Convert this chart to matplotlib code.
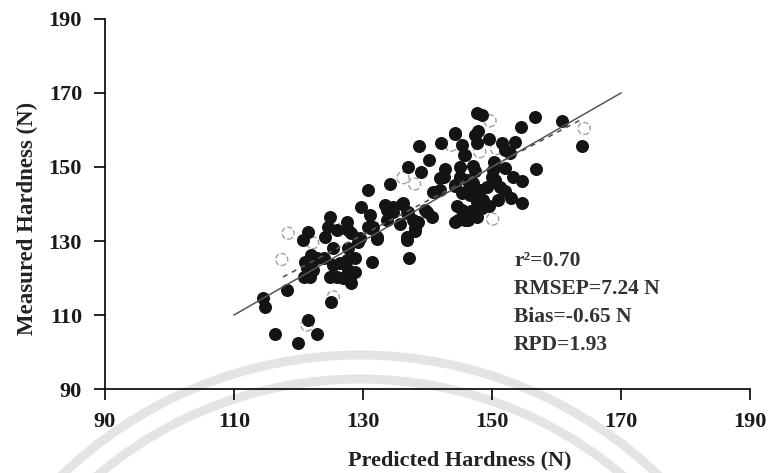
import numpy as np
import matplotlib.pyplot as plt
from matplotlib.patches import Arc

plt.rcParams['font.family'] = ['Liberation Serif', 'DejaVu Serif']
plt.rcParams['font.weight'] = 'bold'

# Calibration set (filled) - predicted vs measured hardness (N)
cal_pred = [147.6, 148.5, 156.6, 160.9, 154.5, 163.9, 147.9, 144.3, 149.6, 153.6, 138.7, 142.1,
            145.3, 147.6, 145.8, 151.6, 152.0, 152.8, 140.3, 145.6, 145.0, 150.3, 150.2, 147.1,
            142.7, 136.9, 139.0, 152.0, 156.8, 134.2, 141.9, 142.5, 145.0, 146.1, 147.1, 148.1,
            149.2, 150.0, 150.5, 151.2, 152.0, 153.2, 154.6, 140.9, 141.9, 144.3, 145.3, 146.6,
            147.6, 148.6, 144.5, 145.3, 148.4, 154.6, 133.4, 134.7, 136.0, 137.0, 139.9, 140.7,
            144.8, 146.3, 147.6, 137.8, 138.1, 136.8, 130.7, 129.7, 131.1, 133.7, 134.7, 136.8,
            124.9, 124.6, 124.1, 121.5, 120.7, 127.5, 127.7, 128.2, 130.8, 131.6, 132.1, 125.9,
            125.3, 127.7, 121.0, 122.0, 121.3, 122.3, 120.8, 121.8, 122.8, 123.9, 125.4, 126.4,
            127.5, 125.9, 126.9, 127.7, 128.0, 122.0, 124.9, 128.2, 118.2, 114.5, 114.8, 125.1,
            121.5, 116.4, 122.8, 119.9, 131.1, 129.5, 129.3, 132.1, 128.8, 128.8, 136.8, 138.1,
            137.2, 131.4, 144.3, 147.4, 146.8, 144.3, 145.8, 139.6, 138.6, 135.7, 133.7, 136.2,
            144.3, 145.8, 147.4, 141.2, 149.5, 151.0, 153.0]
cal_meas = [164.5, 164.0, 163.4, 162.5, 160.9, 155.7, 159.8, 159.1, 157.5, 156.8, 155.7, 156.4,
            156.0, 156.4, 153.2, 156.4, 154.6, 153.9, 152.0, 153.2, 150.1, 151.4, 149.2, 150.3,
            149.4, 150.0, 148.6, 149.7, 149.4, 145.4, 146.9, 147.4, 147.4, 146.5, 145.6, 143.8,
            144.7, 147.4, 146.5, 144.7, 143.4, 147.2, 146.3, 143.3, 143.8, 144.9, 142.9, 142.4,
            140.6, 141.1, 139.5, 138.4, 138.8, 140.2, 139.7, 139.3, 140.0, 137.9, 137.9, 136.6,
            135.7, 135.7, 136.4, 135.7, 133.4, 131.2, 143.8, 139.3, 137.0, 138.5, 137.9, 137.5,
            136.4, 133.9, 131.2, 132.5, 130.3, 135.2, 133.0, 132.1, 133.9, 133.9, 131.2, 133.0,
            128.0, 128.0, 124.4, 124.0, 122.6, 122.2, 120.4, 120.4, 125.3, 125.3, 123.5, 124.0,
            124.9, 120.4, 119.9, 122.2, 119.5, 126.2, 120.4, 118.6, 116.8, 114.5, 112.2, 113.6,
            108.6, 104.9, 104.9, 102.3, 133.4, 130.7, 129.8, 130.5, 125.3, 121.7, 130.3, 132.7,
            125.3, 124.4, 158.8, 158.6, 138.0, 135.2, 135.7, 138.4, 135.2, 134.7, 135.7, 140.2,
            145.1, 143.3, 148.8, 143.3, 139.5, 141.0, 141.5]

# Validation set (open)
val_pred = [149.7, 164.3, 136.2, 138.0, 150.1, 118.4, 117.4, 125.4, 121.3, 143.7, 148.1, 150.7,
            122.2, 126.9]
val_meas = [162.5, 160.4, 147.1, 145.4, 135.9, 132.1, 125.0, 114.9, 107.3, 155.9, 154.1, 155.0,
            129.5, 133.5]

one_to_one = [110, 170]
fit_x = [117.6, 164.0]
fit_slope, fit_intercept = 0.92, 12.1

stats = ['r²=0.70', 'RMSEP=7.24 N', 'Bias=-0.65 N', 'RPD=1.93']

fig = plt.figure(figsize=(7.69, 4.73), dpi=100)

# faint watermark arcs in the background
bg = fig.add_axes([0, 0, 1, 1], zorder=-1)
bg.set_xlim(0, 769)
bg.set_ylim(473, 0)
bg.axis('off')
for r in [430, 406]:
    bg.add_patch(Arc((360, 785), 2 * r, 2 * r, theta1=180, theta2=360,
                     color='#e4e4e4', lw=6.5))

ax = fig.add_axes([105 / 769, 1 - 389 / 473, 645 / 769, 370 / 473])
ax.patch.set_alpha(0)

ax.scatter(val_pred, val_meas, s=75, facecolor='white', edgecolor='#a0a0a0',
           linewidths=1.0, linestyle='--', zorder=2)
ax.scatter(cal_pred, cal_meas, s=88, color='#141414', linewidths=0, zorder=3)

ax.plot(one_to_one, one_to_one, color='#555555', lw=1.1, zorder=4)
fx = np.array(fit_x)
ax.plot(fx, fit_slope * fx + fit_intercept, color='#555555', lw=1.2,
        linestyle=(0, (3, 3)), zorder=4)

ax.set_xlim(90, 190)
ax.set_ylim(90, 190)
ax.set_xticks([90, 110, 130, 150, 170, 190])
ax.set_yticks([90, 110, 130, 150, 170, 190])
for side in ['top', 'right']:
    ax.spines[side].set_visible(False)
for side in ['left', 'bottom']:
    ax.spines[side].set_linewidth(1.2)
ax.tick_params(direction='out', length=8, width=1.2, pad=8.5,
               labelsize=16, labelcolor='#1a1a1a')
for lab in ax.get_xticklabels() + ax.get_yticklabels():
    lab.set_fontweight('bold')

fig.text(460 / 769, 1 - 465 / 473, 'Predicted Hardness (N)', ha='center',
         va='baseline', fontsize=16, fontweight='bold', color='#222222')
fig.text(27 / 769, 1 - 218 / 473, 'Measured Hardness (N)', ha='center',
         va='center', rotation=90, fontsize=16.5, fontweight='bold', color='#222222')

for i, s in enumerate(stats):
    fig.text(514 / 769, 1 - (266 + 28 * i) / 473, s, ha='left', va='baseline',
             fontsize=15.5, fontweight='bold', color='#333333')

fig.savefig('out.png', dpi=100)
